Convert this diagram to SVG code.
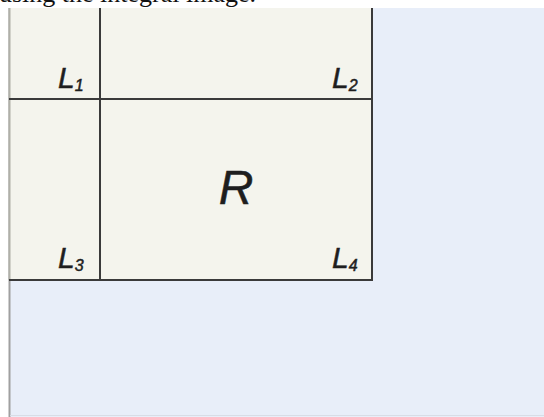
<svg xmlns="http://www.w3.org/2000/svg" width="544" height="417" viewBox="0 0 544 417">
<style>
.lbl{font-family:"Liberation Sans",Arial,sans-serif;font-style:italic;fill:#1e1e1e;stroke:#1e1e1e;stroke-width:0.5}
.ln{stroke:#3a3a3a;stroke-width:2;fill:none}
</style>
<rect x="0" y="0" width="544" height="417" fill="#ffffff"/>
<text x="-1" y="2" font-family="'Liberation Serif','Times New Roman',serif" font-size="26" fill="#111">using the integral image.</text>
<g id="background">
<rect x="10" y="8" width="534" height="409" fill="#e8eef9"/>
<line x1="9.5" y1="8" x2="9.5" y2="417" stroke="#a0a0a0" stroke-width="2"/>
<line x1="10" y1="415.5" x2="544" y2="415.5" stroke="#d8dde6" stroke-width="1"/>
</g>
<g id="panel">
<rect x="9" y="8" width="363" height="272" fill="#f4f4ed"/>
<line x1="9.5" y1="8" x2="9.5" y2="280" stroke="#b0b0a8" stroke-width="2"/>
</g>
<g id="connectors">
<line class="ln" x1="100" y1="8" x2="100" y2="280"/>
<line class="ln" x1="9" y1="99" x2="372" y2="99"/>
<line class="ln" x1="372" y1="8" x2="372" y2="281"/>
<line class="ln" x1="9" y1="280" x2="372" y2="280"/>
</g>
<g id="L1"><text class="lbl" x="58" y="88" font-size="30">L<tspan font-size="16" dy="3">1</tspan></text></g>
<g id="L2"><text class="lbl" x="332" y="88" font-size="30">L<tspan font-size="16" dy="3">2</tspan></text></g>
<g id="L3"><text class="lbl" x="58" y="268" font-size="30">L<tspan font-size="16" dy="3">3</tspan></text></g>
<g id="L4"><text class="lbl" x="332" y="268" font-size="30">L<tspan font-size="16" dy="3">4</tspan></text></g>
<g id="R"><text class="lbl" x="236" y="204" font-size="48" text-anchor="middle">R</text></g>
</svg>
